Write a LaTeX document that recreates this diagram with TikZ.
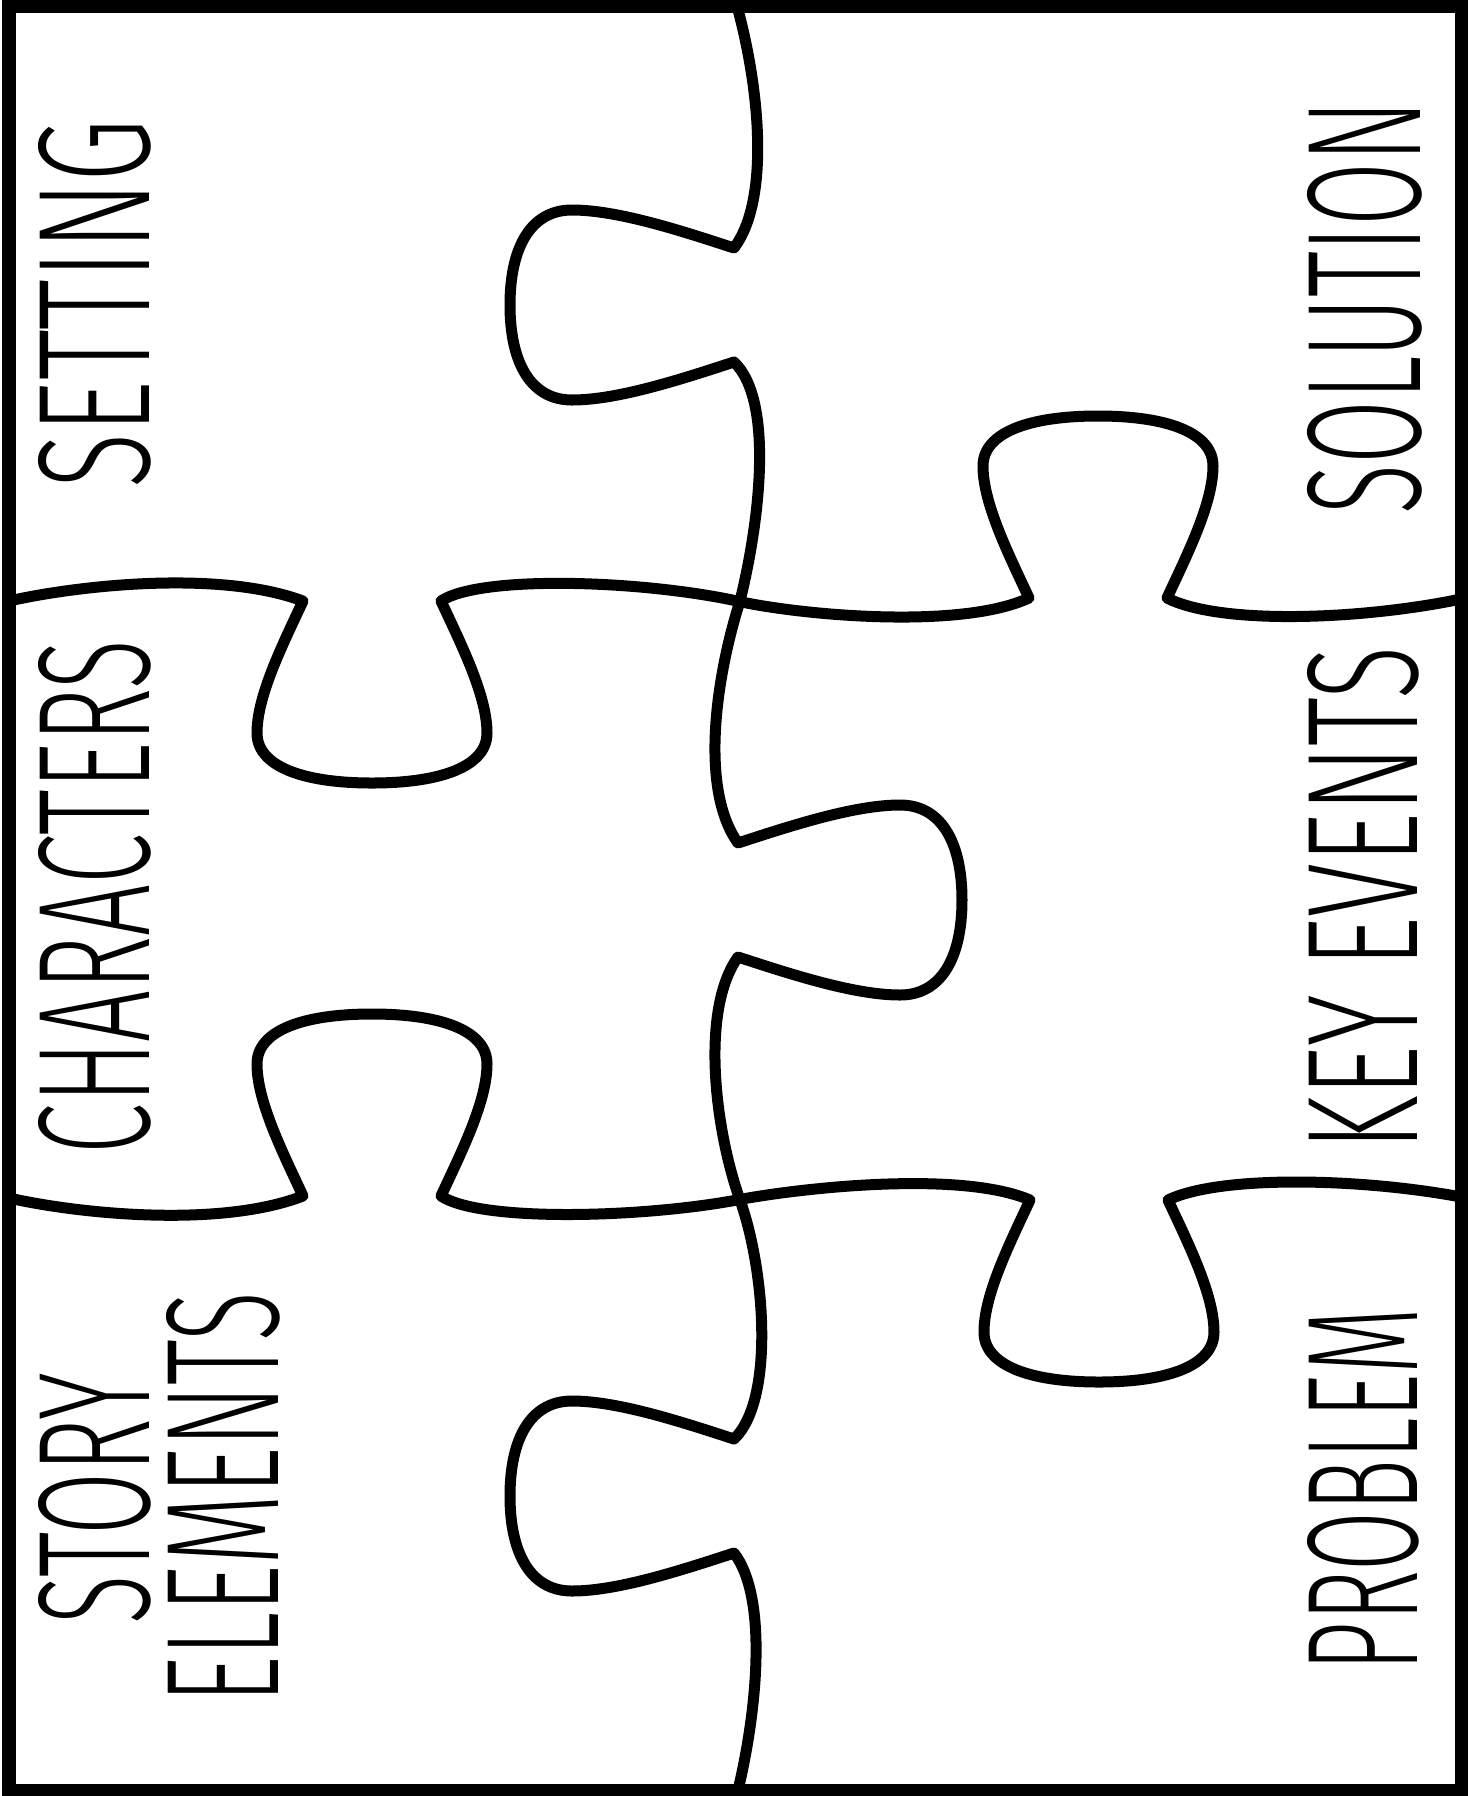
\documentclass[tikz,border=0pt]{standalone}
\usepackage{graphicx}
\usepackage{fontspec}
\IfFontExistsTF{Fira Sans Light}{\newfontfamily\lblfont{Fira Sans Light}}{\newfontfamily\lblfont{Liberation Sans}}
% knob on a horizontal cut, drawn left to right; #1 centre x, #2 neck y, #3 = 1 down / -1 up
\newcommand\hknob[3]{%
 .. controls ({#1-90},{#2+45*(#3)}) and ({#1-115},{#2+95*(#3)}) .. ({#1-115},{#2+132*(#3)})
 .. controls ({#1-115},{#2+165*(#3)}) and ({#1-70},{#2+182*(#3)}) .. ({#1},{#2+182*(#3)})
 .. controls ({#1+70},{#2+182*(#3)}) and ({#1+115},{#2+165*(#3)}) .. ({#1+115},{#2+132*(#3)})
 .. controls ({#1+115},{#2+95*(#3)}) and ({#1+90},{#2+45*(#3)}) .. ({#1+69},{#2})}
% knob on the vertical cut, drawn top to bottom; #1 neck x, #2 centre y, #3 = 1 right / -1 left
\newcommand\vknob[3]{%
 .. controls ({#1+55*(#3)},{#2-75}) and ({#1+117*(#3)},{#2-95}) .. ({#1+162*(#3)},{#2-95})
 .. controls ({#1+203*(#3)},{#2-95}) and ({#1+224*(#3)},{#2-58}) .. ({#1+224*(#3)},{#2})
 .. controls ({#1+224*(#3)},{#2+58}) and ({#1+203*(#3)},{#2+95}) .. ({#1+162*(#3)},{#2+95})
 .. controls ({#1+117*(#3)},{#2+95}) and ({#1+55*(#3)},{#2+75}) .. ({#1},{#2+57})}
\tikzset{
  puz/.style={line width=0.11cm, line join=round, line cap=round},
  frame/.style={line width=0.13cm},
  lbl/.style={rotate=90, inner sep=0pt, font=\lblfont}
}
\begin{document}
\begin{tikzpicture}[x=0.01cm, y=-0.01cm]
\fill[white] (0,0) rectangle (1469,1796);
\useasboundingbox (0,0) rectangle (1469,1796);
% frame
\draw[frame] (9,6) rectangle (1461,1790);
% vertical cut
\draw[puz] (737,6) .. controls (760,90) and (770,200) .. (734,248) \vknob{734}{305}{-1}
  .. controls (774,400) and (760,520) .. (740,601)
  .. controls (715,680) and (700,790) .. (738,843) \vknob{738}{900}{1}
  .. controls (700,1010) and (715,1130) .. (740,1200)
  .. controls (765,1270) and (775,1400) .. (734,1439) \vknob{734}{1496}{-1}
  .. controls (770,1600) and (755,1720) .. (738,1790);
% upper horizontal cut
\draw[puz] (9,601) .. controls (80,585) and (220,570) .. (303,601) \hknob{372}{601}{1}
  .. controls (480,575) and (640,580) .. (737,601)
  .. controls (800,615) and (960,630) .. (1029,598) \hknob{1098}{598}{-1}
  .. controls (1220,625) and (1360,620) .. (1461,599);
% lower horizontal cut
\draw[puz] (9,1198) .. controls (80,1214) and (220,1228) .. (303,1196) \hknob{372}{1196}{-1}
  .. controls (480,1222) and (640,1218) .. (737,1200)
  .. controls (800,1188) and (960,1170) .. (1030,1200) \hknob{1099}{1200}{1}
  .. controls (1220,1175) and (1360,1178) .. (1461,1197);
% labels
\node[lbl] (setting)    at (94.5,303.5)  {\resizebox{3.69cm}{1.11cm}{SETTING}};
\node[lbl] (solution)   at (1364.5,307)  {\resizebox{4.14cm}{1.13cm}{SOLUTION}};
\node[lbl] (characters) at (94.5,897)    {\resizebox{5.14cm}{1.11cm}{CHARACTERS}};
\node[lbl] (keyevents)  at (1363,898.5)  {\resizebox{5.03cm}{1.10cm}{KEY EVENTS}};
\node[lbl] (story)      at (94.5,1498.5) {\resizebox{2.51cm}{1.11cm}{STORY}};
\node[lbl] (elements)   at (223,1497.5)  {\resizebox{4.11cm}{1.12cm}{ELEMENTS}};
\node[lbl] (problem)    at (1363,1489.5) {\resizebox{3.63cm}{1.10cm}{PROBLEM}};
\end{tikzpicture}
\end{document}
